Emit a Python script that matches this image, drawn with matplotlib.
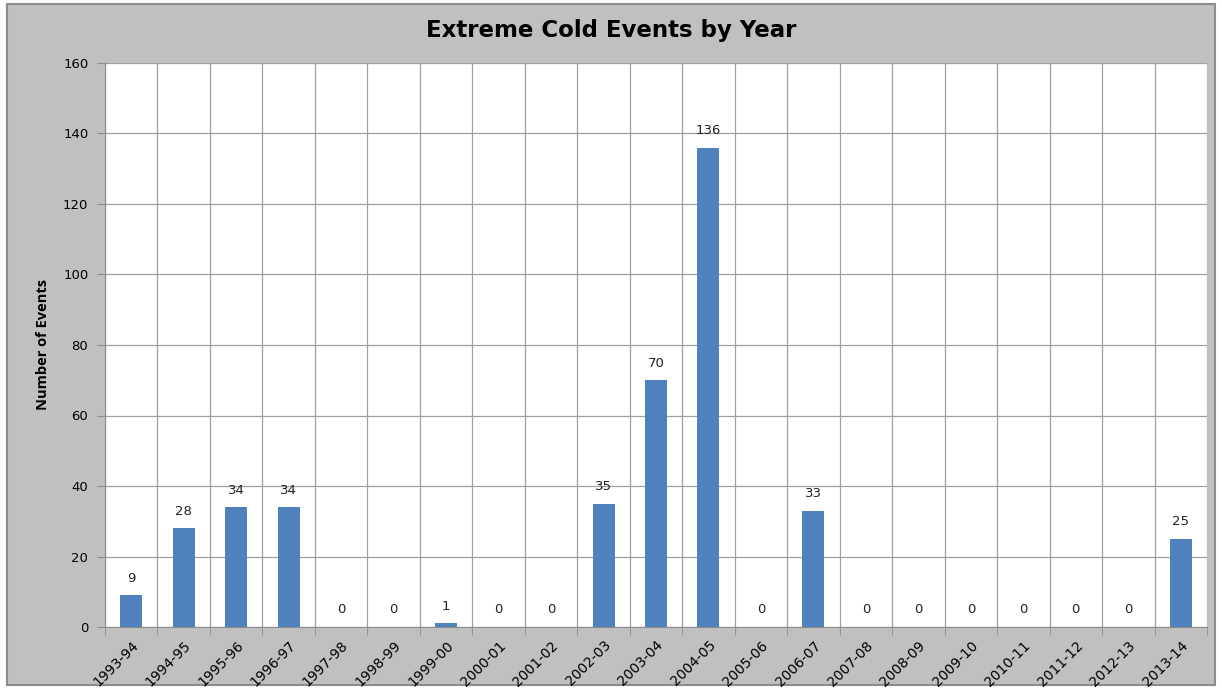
import numpy as np
import matplotlib.pyplot as plt
from matplotlib.patches import Rectangle

seasons = ["1993-94", "1994-95", "1995-96", "1996-97", "1997-98", "1998-99", "1999-00",
           "2000-01", "2001-02", "2002-03", "2003-04", "2004-05", "2005-06", "2006-07",
           "2007-08", "2008-09", "2009-10", "2010-11", "2011-12", "2012-13", "2013-14"]
events = [9, 28, 34, 34, 0, 0, 1, 0, 0, 35, 70, 136, 0, 33, 0, 0, 0, 0, 0, 0, 25]

plt.rcParams["font.family"] = ["DejaVu Sans"]

fig = plt.figure(figsize=(12.22, 6.89), dpi=100)
fig.patch.set_facecolor("white")
# grey chart area with border
fig.patches.append(Rectangle((7 / 1222, 4 / 689), 1208 / 1222, 681 / 689,
                             transform=fig.transFigure, facecolor="#C0C0C0",
                             edgecolor="#8C8C8C", linewidth=1.5, zorder=-10))

ax = fig.add_axes([105 / 1222, 1 - 627 / 689, 1102 / 1222, 564 / 689])
ax.set_zorder(1)
ax.set_facecolor("white")

x = np.arange(len(seasons))
ax.bar(x, events, width=0.42, color="#4F81BD", zorder=3)
for xi, v in zip(x, events):
    ax.text(xi, v + 3, str(v), ha="center", va="bottom", fontsize=9.5, color="#222222")

ax.set_xlim(-0.5, len(seasons) - 0.5)
ax.set_ylim(0, 160)
ax.set_yticks(np.arange(0, 161, 20))
ax.set_xticks(x)
ax.set_xticklabels(seasons, rotation=45, ha="right", rotation_mode="anchor", fontsize=10)
ax.tick_params(axis="x", length=0, pad=8)
ax.tick_params(axis="y", labelsize=9.5, length=6, color="#8C8C8C", pad=6)

# vertical grid at category boundaries, with tick marks below
ax.set_xticks(np.arange(-0.5, len(seasons)), minor=True)
ax.tick_params(axis="x", which="minor", length=6, color="#8C8C8C")
ax.grid(axis="x", which="minor", color="#A0A0A0", linewidth=0.9, zorder=1)
ax.grid(axis="y", which="major", color="#A0A0A0", linewidth=0.9, zorder=1)

for s in ["top", "right"]:
    ax.spines[s].set_visible(False)
for s in ["left", "bottom"]:
    ax.spines[s].set_color("#8C8C8C")

ax.set_ylabel("Number of Events", fontsize=10.5, fontweight="bold",
              family=["Open Sans", "DejaVu Sans"], labelpad=9)
fig.text(0.5, 1 - 31 / 689, "Extreme Cold Events by Year", ha="center", va="center",
         fontsize=16.5, fontweight="bold", family=["DejaVu Sans"])

fig.savefig("out.png", dpi=100)
